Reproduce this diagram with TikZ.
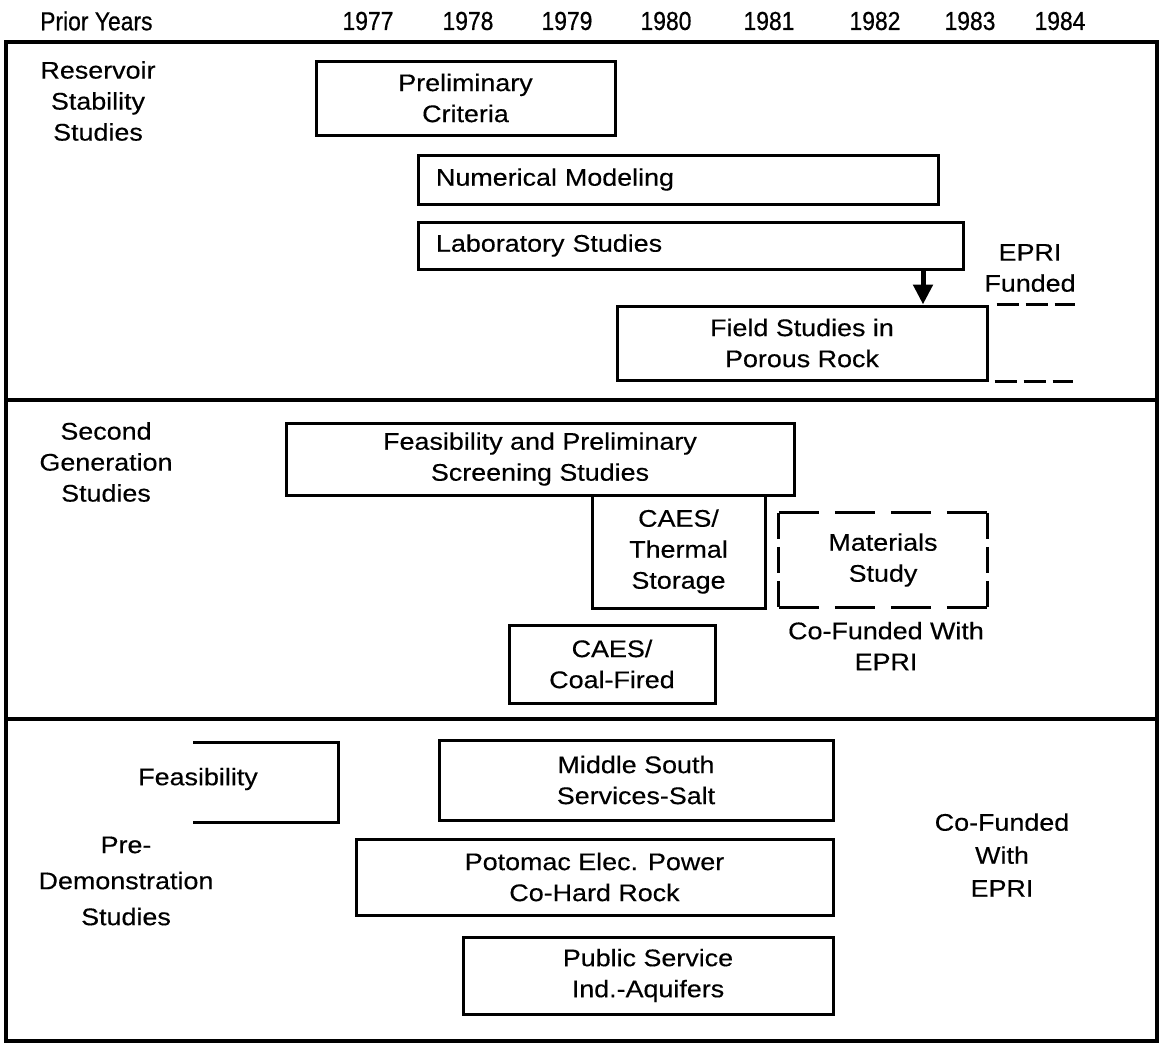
\documentclass[tikz,border=0pt]{standalone}
\usepackage{fontspec}
\setmainfont{Liberation Sans}[FakeStretch=1.12, FakeBold=0.35]
\newfontfamily\yearfont{Liberation Sans}[FakeStretch=0.88, FakeBold=0.6]
\usetikzlibrary{arrows.meta}

\begin{document}
\begin{tikzpicture}[
    x=1pt, y=-1pt,
    every node/.style={font=\fontsize{24}{31}\selectfont, align=center, inner sep=0pt},
    box/.style={rectangle, draw, line width=3pt, align=center},
    hidbox/.style={rectangle, align=center},
    rule/.style={line width=3pt},
    dashh/.style={rule, dash pattern=on 40pt off 16pt},
    dashv/.style={rule, dash pattern=on 26pt off 8pt},
    eprdash/.style={rule, dash pattern=on 22pt off 7pt},
    frame/.style={line width=3.5pt},
    yr/.style={font=\yearfont\fontsize{26}{28}\selectfont},
    >={Triangle[width=19pt,length=20pt]}
]
    \useasboundingbox (0,0) rectangle (1159,1045);

    % header
    \node[yr, anchor=west] (prior) at (40,21) {Prior Years};
    \foreach \yv/\xv in {1977/368, 1978/468, 1979/567, 1980/666, 1981/769, 1982/875, 1983/970, 1984/1060}
        \node[yr] (y\yv) at (\xv,21) {\yv};

    % frame and section rules
    \draw[frame] (6,42) rectangle (1157,1041);
    \draw[frame] (6,400) -- (1157,400);
    \draw[frame] (6,719) -- (1157,719);

    % reservoir stability studies
    \node (resstab) at (98,101) {Reservoir\\Stability\\Studies};
    \node[box, minimum width=299pt, minimum height=74pt] (prelim) at (465.5,98) {Preliminary\\Criteria};
    \node[box, minimum width=520pt, minimum height=49pt, text width=484pt, align=left] (nummod) at (678,179.5) {Numerical Modeling};
    \node[box, minimum width=545pt, minimum height=47pt, text width=509pt, align=left] (labstud) at (690.5,245.5) {Laboratory Studies};
    \node[box, minimum width=370pt, minimum height=74pt] (field) at (802,343) {Field Studies in\\Porous Rock};
    \node (eprif) at (1030,268) {EPRI\\Funded};

    \coordinate (arx) at (923,0);
    \draw[->, line width=5pt] (labstud.south -| arx) -- (field.north -| arx);

    \coordinate (eprtop) at (1075,0);
    \coordinate (eprbot) at (1073,0);
    \draw[eprdash] ([xshift=8pt]field.north east) -- (field.north east -| eprtop);
    \draw[eprdash] ([xshift=6pt]field.south east) -- (field.south east -| eprbot);

    % second generation studies
    \node (secgen) at (106,462) {Second\\Generation\\Studies};
    \node[box, minimum width=508pt, minimum height=72pt] (feas) at (540,459) {Feasibility and Preliminary\\Screening Studies};
    \node[box, minimum width=173pt, minimum height=113pt] (thermal) at (678.5,551.5) {CAES/\\Thermal\\Storage};
    \node[hidbox, minimum width=208pt, minimum height=94pt] (matstudy) at (883,560) {Materials\\Study};
    \draw[dashh] (matstudy.north west) -- (matstudy.north east);
    \draw[dashh] (matstudy.south west) -- (matstudy.south east);
    \draw[dashv] (matstudy.north west) -- (matstudy.south west);
    \draw[dashv] (matstudy.north east) -- (matstudy.south east);
    \node (cofa) at (886,646) {Co-Funded With\\EPRI};
    \node[box, minimum width=206pt, minimum height=78pt] (coal) at (612,664) {CAES/\\Coal-Fired};

    % pre-demonstration studies
    \node[font=\fontsize{24}{36}\selectfont] (predemo) at (126,881) {Pre-\\Demonstration\\Studies};
    \node (feasl) at (198,779) {Feasibility};
    \draw[rule] (193,742) -| (338,822) -- (193,822);
    \node[box, minimum width=394pt, minimum height=80pt] (midsouth) at (636,780) {Middle South\\Services-Salt};
    \node[box, minimum width=477pt, minimum height=76pt] (potomac) at (594.5,877) {Potomac Elec. Power\\Co-Hard Rock};
    \node[box, minimum width=370pt, minimum height=77pt] (pubserv) at (648,975.5) {Public Service\\Ind.-Aquifers};
    \node[font=\fontsize{24}{33}\selectfont] (cofb) at (1002,855) {Co-Funded\\With\\EPRI};
\end{tikzpicture}
\end{document}
